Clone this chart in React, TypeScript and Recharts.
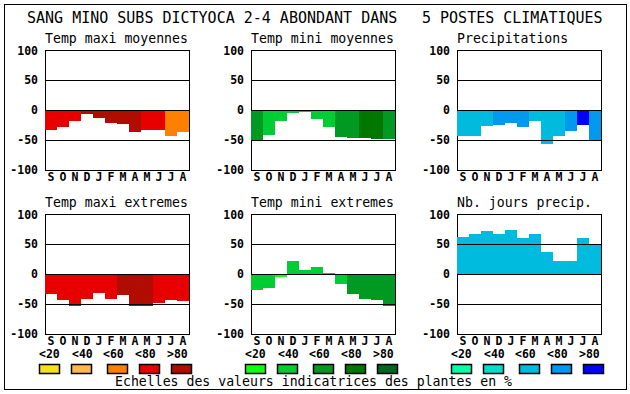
import { BarChart, Bar, XAxis, YAxis, Cell, ReferenceLine, ReferenceArea } from 'recharts';

const months = ['S', 'O', 'N', 'D', 'J', 'F', 'M', 'A', 'M', 'J', 'J', 'A'];
const classLabels = ['<20', '<40', '<60', '<80', '>80'];
const yTicks = [-100, -50, 0, 50, 100];

// values, class = index in classLabels
const tempMaxiMoy = [-33, -28, -18, -7, -13, -21, -24, -37, -33, -34, -44, -36];
const tempMaxiMoyClass = [3, 3, 3, 4, 4, 4, 4, 4, 3, 3, 2, 2];
const tempMiniMoy = [-50, -42, -18, -5, -3, -15, -28, -45, -46, -46, -48, -48];
const tempMiniMoyClass = [2, 1, 1, 1, 1, 1, 1, 2, 2, 3, 3, 2];
const precip = [-44, -44, -26, -25, -22, -28, -18, -56, -43, -35, -25, -50];
const precipClass = [2, 2, 2, 3, 3, 3, 2, 2, 2, 3, 4, 3];
const tempMaxiExt = [-33, -43, -54, -42, -32, -42, -35, -53, -54, -48, -43, -45];
const tempMaxiExtClass = [3, 3, 3, 3, 3, 3, 4, 4, 4, 3, 3, 3];
const tempMiniExt = [-26, -24, -5, 21, 6, 11, 2, -17, -33, -42, -43, -53];
const tempMiniExtClass = [1, 1, 0, 1, 1, 1, 1, 1, 2, 2, 2, 2];
const joursPrecip = [62, 66, 72, 66, 74, 60, 66, 36, 22, 21, 60, 50];
const joursPrecipClass = [2, 2, 2, 2, 2, 2, 2, 2, 2, 2, 2, 2];

const reds = ['#f5e01a', '#ffb84d', '#ff8000', '#e80000', '#b00c00'];
const greens = ['#10ff10', '#00cc33', '#009922', '#007700', '#006622'];
const blues = ['#00ffaa', '#00ddcc', '#00bbdd', '#0099ee', '#0000ff'];

const FONT = '"DejaVu Sans Mono", monospace';
const PLOT_W = 144;
const PLOT_H = 120;
const AXIS_W = 40;

const panels = [
  { title: 'Temp maxi moyennes', values: tempMaxiMoy, cls: tempMaxiMoyClass, palette: reds, left: 45, top: 50 },
  { title: 'Temp mini moyennes', values: tempMiniMoy, cls: tempMiniMoyClass, palette: greens, left: 251, top: 50 },
  { title: 'Precipitations', values: precip, cls: precipClass, palette: blues, left: 457, top: 50 },
  { title: 'Temp maxi extremes', values: tempMaxiExt, cls: tempMaxiExtClass, palette: reds, left: 45, top: 214 },
  { title: 'Temp mini extremes', values: tempMiniExt, cls: tempMiniExtClass, palette: greens, left: 251, top: 214 },
  { title: 'Nb. jours precip.', values: joursPrecip, cls: joursPrecipClass, palette: blues, left: 457, top: 214 },
];

const legendGroups = [
  { palette: reds, left: 45 },
  { palette: greens, left: 251 },
  { palette: blues, left: 457 },
];
const labelOffsets = [0, 33, 64, 96, 128];
const boxOffsets = [0, 32, 68, 100, 132];

function Panel({ p }: { p: (typeof panels)[number] }) {
  const data = months.map((m, i) => ({ m, v: p.values[i], c: p.cls[i] }));
  const tick = { fontFamily: FONT, fontSize: 11.5, fontWeight: 'bold', fill: '#000' };
  return (
    <div style={{ position: 'absolute', left: p.left - AXIS_W, top: p.top - 5 }}>
      <BarChart
        width={AXIS_W + PLOT_W + 5}
        height={5 + PLOT_H + 20}
        data={data}
        margin={{ top: 5, right: 5, bottom: 0, left: 0 }}
        barCategoryGap={0}
      >
        <XAxis
          dataKey='m'
          height={20}
          axisLine={false}
          tickLine={false}
          tickSize={0}
          tickMargin={3}
          interval={0}
          tick={tick}
        />
        <YAxis
          width={AXIS_W}
          domain={[-100, 100]}
          ticks={yTicks}
          axisLine={false}
          tickLine={false}
          tickSize={0}
          tickMargin={7}
          tick={tick}
        />
        <Bar dataKey='v' isAnimationActive={false}>
          {data.map((d, i) => (
            <Cell key={i} fill={p.palette[d.c]} shapeRendering='crispEdges' />
          ))}
        </Bar>
        <ReferenceLine y={50} stroke='#000' shapeRendering='crispEdges' />
        <ReferenceLine y={0} stroke='#000' shapeRendering='crispEdges' />
        <ReferenceLine y={-50} stroke='#000' shapeRendering='crispEdges' />
        <ReferenceArea
          y1={-100}
          y2={100}
          fill='none'
          stroke='#000'
          strokeOpacity={1}
          shapeRendering='crispEdges'
        />
      </BarChart>
    </div>
  );
}

export default function App() {
  return (
    <div style={{ position: 'absolute', left: 0, top: 0, width: 630, height: 394, background: '#fff' }}>
      <svg width={630} height={394} style={{ position: 'absolute', left: 0, top: 0 }} fontFamily={FONT}>
        <rect x={4.5} y={4.5} width={622} height={385} fill='none' stroke='#000' />
        <text x={27} y={23} fontSize={15}>SANG MINO SUBS DICTYOCA 2-4 ABONDANT DANS</text>
        <text x={422} y={23} fontSize={15}>5 POSTES CLIMATIQUES</text>
        {panels.map((p) => (
          <text key={p.title} x={p.left} y={p.top - 7} fontSize={13.2}>
            {p.title}
          </text>
        ))}
        {legendGroups.map((g, gi) => (
          <g key={gi}>
            {classLabels.map((l, i) => (
              <text
                key={l}
                x={g.left - 6 + labelOffsets[i]}
                y={358}
                fontSize={11.5}
                fontWeight='bold'
              >
                {l}
              </text>
            ))}
            {g.palette.map((c, i) => (
              <rect
                key={c}
                x={g.left - 5.5 + boxOffsets[i]}
                y={364.5}
                width={20}
                height={9}
                fill={c}
                stroke='#000'
                strokeWidth={1.5}
              />
            ))}
          </g>
        ))}
        <text x={115} y={386} fontSize={13.2}>
          Echelles des valeurs indicatrices des plantes en %
        </text>
      </svg>
      {panels.map((p) => (
        <Panel key={p.title} p={p} />
      ))}
    </div>
  );
}
